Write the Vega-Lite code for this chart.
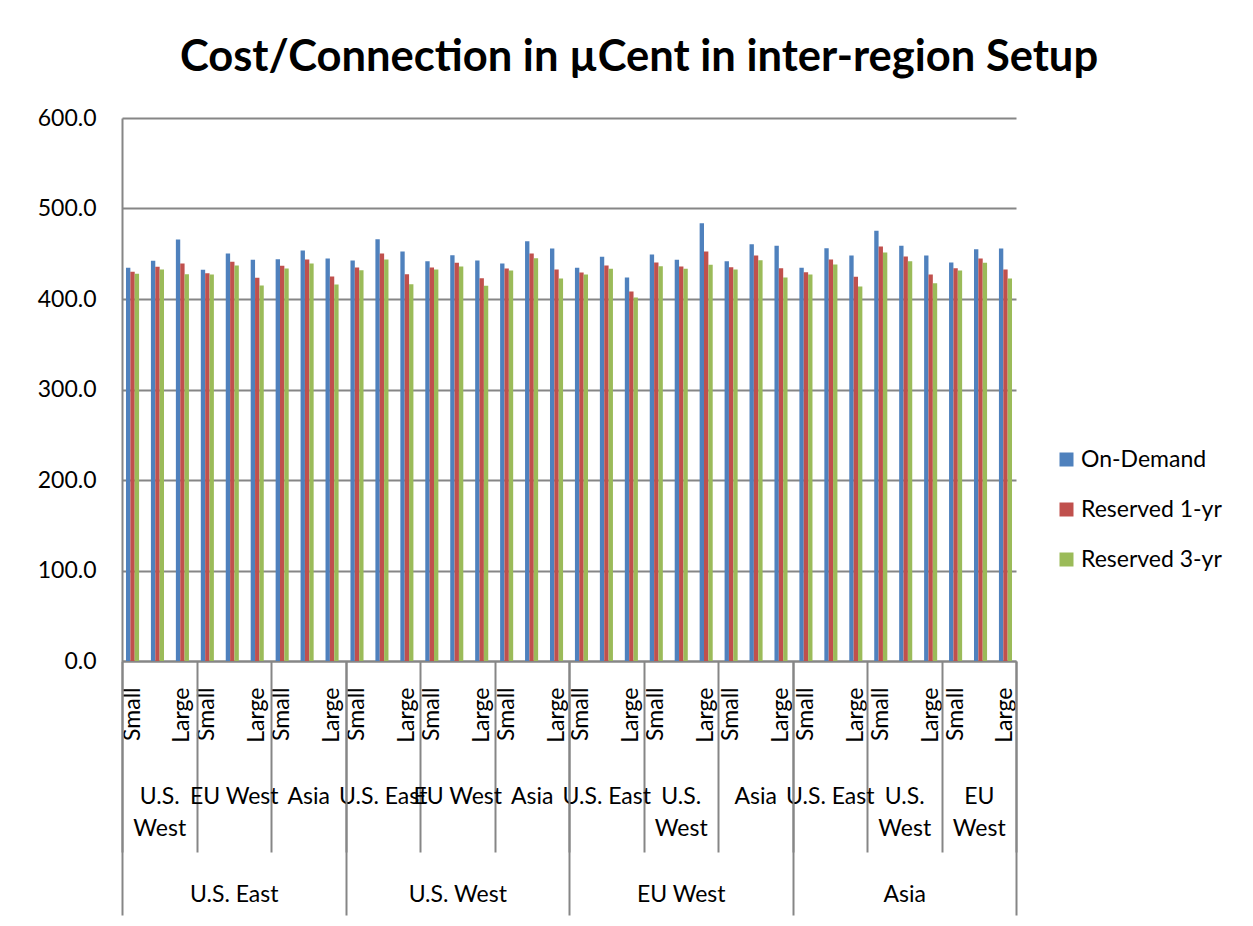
{
  "$schema": "https://vega.github.io/schema/vega-lite/v6.json",
  "width": 894,
  "height": 543,
  "autosize": {"type": "none"},
  "padding": {"left": 122, "top": 118, "right": 237, "bottom": 265},
  "background": "white",
  "title": {"text": "Cost/Connection in µCent in inter-region Setup", "font": "Lato", "fontSize": 43.5, "fontWeight": "bold", "color": "black", "anchor": "middle", "frame": "group", "dx": 70, "offset": -7, "baseline": "alphabetic"},
  "config": {"view": {"stroke": null}, "font": "Lato"},
  "data": {"values": [
    {"src":"U.S. East","route":"U.S. East / U.S. West","cell":"U.S. East / U.S. West / Small","plan":"On-Demand","value":434.5},
    {"src":"U.S. East","route":"U.S. East / U.S. West","cell":"U.S. East / U.S. West / Small","plan":"Reserved 1-yr","value":430.0},
    {"src":"U.S. East","route":"U.S. East / U.S. West","cell":"U.S. East / U.S. West / Small","plan":"Reserved 3-yr","value":428.0},
    {"src":"U.S. East","route":"U.S. East / U.S. West","cell":"U.S. East / U.S. West / Medium","plan":"On-Demand","value":442.2},
    {"src":"U.S. East","route":"U.S. East / U.S. West","cell":"U.S. East / U.S. West / Medium","plan":"Reserved 1-yr","value":435.6},
    {"src":"U.S. East","route":"U.S. East / U.S. West","cell":"U.S. East / U.S. West / Medium","plan":"Reserved 3-yr","value":432.6},
    {"src":"U.S. East","route":"U.S. East / U.S. West","cell":"U.S. East / U.S. West / Large","plan":"On-Demand","value":465.7},
    {"src":"U.S. East","route":"U.S. East / U.S. West","cell":"U.S. East / U.S. West / Large","plan":"Reserved 1-yr","value":439.2},
    {"src":"U.S. East","route":"U.S. East / U.S. West","cell":"U.S. East / U.S. West / Large","plan":"Reserved 3-yr","value":427.4},
    {"src":"U.S. East","route":"U.S. East / EU West","cell":"U.S. East / EU West / Small","plan":"On-Demand","value":432.2},
    {"src":"U.S. East","route":"U.S. East / EU West","cell":"U.S. East / EU West / Small","plan":"Reserved 1-yr","value":428.5},
    {"src":"U.S. East","route":"U.S. East / EU West","cell":"U.S. East / EU West / Small","plan":"Reserved 3-yr","value":427.1},
    {"src":"U.S. East","route":"U.S. East / EU West","cell":"U.S. East / EU West / Medium","plan":"On-Demand","value":450.3},
    {"src":"U.S. East","route":"U.S. East / EU West","cell":"U.S. East / EU West / Medium","plan":"Reserved 1-yr","value":441.1},
    {"src":"U.S. East","route":"U.S. East / EU West","cell":"U.S. East / EU West / Medium","plan":"Reserved 3-yr","value":437.0},
    {"src":"U.S. East","route":"U.S. East / EU West","cell":"U.S. East / EU West / Large","plan":"On-Demand","value":443.3},
    {"src":"U.S. East","route":"U.S. East / EU West","cell":"U.S. East / EU West / Large","plan":"Reserved 1-yr","value":423.4},
    {"src":"U.S. East","route":"U.S. East / EU West","cell":"U.S. East / EU West / Large","plan":"Reserved 3-yr","value":414.9},
    {"src":"U.S. East","route":"U.S. East / Asia","cell":"U.S. East / Asia / Small","plan":"On-Demand","value":444.0},
    {"src":"U.S. East","route":"U.S. East / Asia","cell":"U.S. East / Asia / Small","plan":"Reserved 1-yr","value":436.7},
    {"src":"U.S. East","route":"U.S. East / Asia","cell":"U.S. East / Asia / Small","plan":"Reserved 3-yr","value":433.7},
    {"src":"U.S. East","route":"U.S. East / Asia","cell":"U.S. East / Asia / Medium","plan":"On-Demand","value":453.6},
    {"src":"U.S. East","route":"U.S. East / Asia","cell":"U.S. East / Asia / Medium","plan":"Reserved 1-yr","value":443.6},
    {"src":"U.S. East","route":"U.S. East / Asia","cell":"U.S. East / Asia / Medium","plan":"Reserved 3-yr","value":439.2},
    {"src":"U.S. East","route":"U.S. East / Asia","cell":"U.S. East / Asia / Large","plan":"On-Demand","value":444.8},
    {"src":"U.S. East","route":"U.S. East / Asia","cell":"U.S. East / Asia / Large","plan":"Reserved 1-yr","value":424.9},
    {"src":"U.S. East","route":"U.S. East / Asia","cell":"U.S. East / Asia / Large","plan":"Reserved 3-yr","value":416.0},
    {"src":"U.S. West","route":"U.S. West / U.S. East","cell":"U.S. West / U.S. East / Small","plan":"On-Demand","value":442.5},
    {"src":"U.S. West","route":"U.S. West / U.S. East","cell":"U.S. West / U.S. East / Small","plan":"Reserved 1-yr","value":434.8},
    {"src":"U.S. West","route":"U.S. West / U.S. East","cell":"U.S. West / U.S. East / Small","plan":"Reserved 3-yr","value":431.9},
    {"src":"U.S. West","route":"U.S. West / U.S. East","cell":"U.S. West / U.S. East / Medium","plan":"On-Demand","value":466.0},
    {"src":"U.S. West","route":"U.S. West / U.S. East","cell":"U.S. West / U.S. East / Medium","plan":"Reserved 1-yr","value":450.3},
    {"src":"U.S. West","route":"U.S. West / U.S. East","cell":"U.S. West / U.S. East / Medium","plan":"Reserved 3-yr","value":443.6},
    {"src":"U.S. West","route":"U.S. West / U.S. East","cell":"U.S. West / U.S. East / Large","plan":"On-Demand","value":452.5},
    {"src":"U.S. West","route":"U.S. West / U.S. East","cell":"U.S. West / U.S. East / Large","plan":"Reserved 1-yr","value":427.4},
    {"src":"U.S. West","route":"U.S. West / U.S. East","cell":"U.S. West / U.S. East / Large","plan":"Reserved 3-yr","value":416.4},
    {"src":"U.S. West","route":"U.S. West / EU West","cell":"U.S. West / EU West / Small","plan":"On-Demand","value":441.8},
    {"src":"U.S. West","route":"U.S. West / EU West","cell":"U.S. West / EU West / Small","plan":"Reserved 1-yr","value":434.8},
    {"src":"U.S. West","route":"U.S. West / EU West","cell":"U.S. West / EU West / Small","plan":"Reserved 3-yr","value":432.6},
    {"src":"U.S. West","route":"U.S. West / EU West","cell":"U.S. West / EU West / Medium","plan":"On-Demand","value":448.4},
    {"src":"U.S. West","route":"U.S. West / EU West","cell":"U.S. West / EU West / Medium","plan":"Reserved 1-yr","value":440.0},
    {"src":"U.S. West","route":"U.S. West / EU West","cell":"U.S. West / EU West / Medium","plan":"Reserved 3-yr","value":435.9},
    {"src":"U.S. West","route":"U.S. West / EU West","cell":"U.S. West / EU West / Large","plan":"On-Demand","value":442.5},
    {"src":"U.S. West","route":"U.S. West / EU West","cell":"U.S. West / EU West / Large","plan":"Reserved 1-yr","value":423.0},
    {"src":"U.S. West","route":"U.S. West / EU West","cell":"U.S. West / EU West / Large","plan":"Reserved 3-yr","value":414.6},
    {"src":"U.S. West","route":"U.S. West / Asia","cell":"U.S. West / Asia / Small","plan":"On-Demand","value":439.2},
    {"src":"U.S. West","route":"U.S. West / Asia","cell":"U.S. West / Asia / Small","plan":"Reserved 1-yr","value":433.7},
    {"src":"U.S. West","route":"U.S. West / Asia","cell":"U.S. West / Asia / Small","plan":"Reserved 3-yr","value":431.5},
    {"src":"U.S. West","route":"U.S. West / Asia","cell":"U.S. West / Asia / Medium","plan":"On-Demand","value":463.9},
    {"src":"U.S. West","route":"U.S. West / Asia","cell":"U.S. West / Asia / Medium","plan":"Reserved 1-yr","value":450.3},
    {"src":"U.S. West","route":"U.S. West / Asia","cell":"U.S. West / Asia / Medium","plan":"Reserved 3-yr","value":445.1},
    {"src":"U.S. West","route":"U.S. West / Asia","cell":"U.S. West / Asia / Large","plan":"On-Demand","value":455.8},
    {"src":"U.S. West","route":"U.S. West / Asia","cell":"U.S. West / Asia / Large","plan":"Reserved 1-yr","value":432.6},
    {"src":"U.S. West","route":"U.S. West / Asia","cell":"U.S. West / Asia / Large","plan":"Reserved 3-yr","value":422.7},
    {"src":"EU West","route":"EU West / U.S. East","cell":"EU West / U.S. East / Small","plan":"On-Demand","value":434.5},
    {"src":"EU West","route":"EU West / U.S. East","cell":"EU West / U.S. East / Small","plan":"Reserved 1-yr","value":429.3},
    {"src":"EU West","route":"EU West / U.S. East","cell":"EU West / U.S. East / Small","plan":"Reserved 3-yr","value":427.1},
    {"src":"EU West","route":"EU West / U.S. East","cell":"EU West / U.S. East / Medium","plan":"On-Demand","value":446.6},
    {"src":"EU West","route":"EU West / U.S. East","cell":"EU West / U.S. East / Medium","plan":"Reserved 1-yr","value":437.0},
    {"src":"EU West","route":"EU West / U.S. East","cell":"EU West / U.S. East / Medium","plan":"Reserved 3-yr","value":433.3},
    {"src":"EU West","route":"EU West / U.S. East","cell":"EU West / U.S. East / Large","plan":"On-Demand","value":423.8},
    {"src":"EU West","route":"EU West / U.S. East","cell":"EU West / U.S. East / Large","plan":"Reserved 1-yr","value":408.3},
    {"src":"EU West","route":"EU West / U.S. East","cell":"EU West / U.S. East / Large","plan":"Reserved 3-yr","value":401.7},
    {"src":"EU West","route":"EU West / U.S. West","cell":"EU West / U.S. West / Small","plan":"On-Demand","value":449.2},
    {"src":"EU West","route":"EU West / U.S. West","cell":"EU West / U.S. West / Small","plan":"Reserved 1-yr","value":440.3},
    {"src":"EU West","route":"EU West / U.S. West","cell":"EU West / U.S. West / Small","plan":"Reserved 3-yr","value":436.2},
    {"src":"EU West","route":"EU West / U.S. West","cell":"EU West / U.S. West / Medium","plan":"On-Demand","value":443.3},
    {"src":"EU West","route":"EU West / U.S. West","cell":"EU West / U.S. West / Medium","plan":"Reserved 1-yr","value":435.9},
    {"src":"EU West","route":"EU West / U.S. West","cell":"EU West / U.S. West / Medium","plan":"Reserved 3-yr","value":433.3},
    {"src":"EU West","route":"EU West / U.S. West","cell":"EU West / U.S. West / Large","plan":"On-Demand","value":483.8},
    {"src":"EU West","route":"EU West / U.S. West","cell":"EU West / U.S. West / Large","plan":"Reserved 1-yr","value":452.5},
    {"src":"EU West","route":"EU West / U.S. West","cell":"EU West / U.S. West / Large","plan":"Reserved 3-yr","value":437.8},
    {"src":"EU West","route":"EU West / Asia","cell":"EU West / Asia / Small","plan":"On-Demand","value":441.8},
    {"src":"EU West","route":"EU West / Asia","cell":"EU West / Asia / Small","plan":"Reserved 1-yr","value":435.1},
    {"src":"EU West","route":"EU West / Asia","cell":"EU West / Asia / Small","plan":"Reserved 3-yr","value":432.6},
    {"src":"EU West","route":"EU West / Asia","cell":"EU West / Asia / Medium","plan":"On-Demand","value":460.6},
    {"src":"EU West","route":"EU West / Asia","cell":"EU West / Asia / Medium","plan":"Reserved 1-yr","value":448.1},
    {"src":"EU West","route":"EU West / Asia","cell":"EU West / Asia / Medium","plan":"Reserved 3-yr","value":442.9},
    {"src":"EU West","route":"EU West / Asia","cell":"EU West / Asia / Large","plan":"On-Demand","value":458.8},
    {"src":"EU West","route":"EU West / Asia","cell":"EU West / Asia / Large","plan":"Reserved 1-yr","value":434.0},
    {"src":"EU West","route":"EU West / Asia","cell":"EU West / Asia / Large","plan":"Reserved 3-yr","value":423.8},
    {"src":"Asia","route":"Asia / U.S. East","cell":"Asia / U.S. East / Small","plan":"On-Demand","value":434.5},
    {"src":"Asia","route":"Asia / U.S. East","cell":"Asia / U.S. East / Small","plan":"Reserved 1-yr","value":429.6},
    {"src":"Asia","route":"Asia / U.S. East","cell":"Asia / U.S. East / Small","plan":"Reserved 3-yr","value":427.1},
    {"src":"Asia","route":"Asia / U.S. East","cell":"Asia / U.S. East / Medium","plan":"On-Demand","value":456.1},
    {"src":"Asia","route":"Asia / U.S. East","cell":"Asia / U.S. East / Medium","plan":"Reserved 1-yr","value":443.6},
    {"src":"Asia","route":"Asia / U.S. East","cell":"Asia / U.S. East / Medium","plan":"Reserved 3-yr","value":438.1},
    {"src":"Asia","route":"Asia / U.S. East","cell":"Asia / U.S. East / Large","plan":"On-Demand","value":448.1},
    {"src":"Asia","route":"Asia / U.S. East","cell":"Asia / U.S. East / Large","plan":"Reserved 1-yr","value":424.5},
    {"src":"Asia","route":"Asia / U.S. East","cell":"Asia / U.S. East / Large","plan":"Reserved 3-yr","value":413.8},
    {"src":"Asia","route":"Asia / U.S. West","cell":"Asia / U.S. West / Small","plan":"On-Demand","value":475.4},
    {"src":"Asia","route":"Asia / U.S. West","cell":"Asia / U.S. West / Small","plan":"Reserved 1-yr","value":458.0},
    {"src":"Asia","route":"Asia / U.S. West","cell":"Asia / U.S. West / Small","plan":"Reserved 3-yr","value":451.4},
    {"src":"Asia","route":"Asia / U.S. West","cell":"Asia / U.S. West / Medium","plan":"On-Demand","value":458.8},
    {"src":"Asia","route":"Asia / U.S. West","cell":"Asia / U.S. West / Medium","plan":"Reserved 1-yr","value":447.0},
    {"src":"Asia","route":"Asia / U.S. West","cell":"Asia / U.S. West / Medium","plan":"Reserved 3-yr","value":441.8},
    {"src":"Asia","route":"Asia / U.S. West","cell":"Asia / U.S. West / Large","plan":"On-Demand","value":448.1},
    {"src":"Asia","route":"Asia / U.S. West","cell":"Asia / U.S. West / Large","plan":"Reserved 1-yr","value":427.1},
    {"src":"Asia","route":"Asia / U.S. West","cell":"Asia / U.S. West / Large","plan":"Reserved 3-yr","value":417.5},
    {"src":"Asia","route":"Asia / EU West","cell":"Asia / EU West / Small","plan":"On-Demand","value":440.3},
    {"src":"Asia","route":"Asia / EU West","cell":"Asia / EU West / Small","plan":"Reserved 1-yr","value":434.0},
    {"src":"Asia","route":"Asia / EU West","cell":"Asia / EU West / Small","plan":"Reserved 3-yr","value":431.5},
    {"src":"Asia","route":"Asia / EU West","cell":"Asia / EU West / Medium","plan":"On-Demand","value":455.0},
    {"src":"Asia","route":"Asia / EU West","cell":"Asia / EU West / Medium","plan":"Reserved 1-yr","value":444.8},
    {"src":"Asia","route":"Asia / EU West","cell":"Asia / EU West / Medium","plan":"Reserved 3-yr","value":440.0},
    {"src":"Asia","route":"Asia / EU West","cell":"Asia / EU West / Large","plan":"On-Demand","value":455.8},
    {"src":"Asia","route":"Asia / EU West","cell":"Asia / EU West / Large","plan":"Reserved 1-yr","value":432.6},
    {"src":"Asia","route":"Asia / EU West","cell":"Asia / EU West / Large","plan":"Reserved 3-yr","value":422.7}
  ]},
  "layer": [
    {
      "mark": {"type": "bar"},
      "encoding": {
        "x": {
          "field": "cell", "type": "nominal", "sort": null,
          "scale": {"paddingInner": 0.476, "paddingOuter": 0.16},
          "axis": {"title": null, "orient": "bottom", "labelAngle": -90, "labelAlign": "right", "labelBaseline": "middle",
                   "labelExpr": "split(datum.value, ' / ')[2] == 'Medium' ? '' : split(datum.value, ' / ')[2]",
                   "ticks": false, "tickSize": 0, "labelPadding": 26, "labelFont": "Lato", "labelFontSize": 23, "labelColor": "black",
                   "domain": true, "domainColor": "#868686", "domainWidth": 2, "grid": false,
                   "labelOverlap": false, "labelBound": false, "labelFlush": false}
        },
        "xOffset": {"field": "plan", "type": "nominal", "sort": ["On-Demand", "Reserved 1-yr", "Reserved 3-yr"], "scale": {"paddingInner": 0, "paddingOuter": 0}},
        "y": {
          "field": "value", "type": "quantitative",
          "scale": {"domain": [0, 600]},
          "axis": {"title": null, "values": [0, 100, 200, 300, 400, 500, 600], "format": ".1f",
                   "grid": true, "gridColor": "#868686", "gridWidth": 2,
                   "domain": true, "domainColor": "#868686", "domainWidth": 2,
                   "ticks": false, "tickSize": 0, "labelPadding": 26, "labelFont": "Lato", "labelFontSize": 23, "labelColor": "black"}
        },
        "color": {
          "field": "plan", "type": "nominal",
          "scale": {"domain": ["On-Demand", "Reserved 1-yr", "Reserved 3-yr"], "range": ["#4F81BD", "#C0504D", "#9BBB59"]},
          "legend": {"title": null, "orient": "none", "legendX": 933, "legendY": 330, "symbolType": "square", "symbolSize": 196,
                     "symbolStrokeWidth": 0, "labelFont": "Lato", "labelFontSize": 23, "labelColor": "black", "rowPadding": 26, "labelOffset": 3, "padding": 0}
        }
      }
    },
    {
      "mark": {"type": "point", "opacity": 0},
      "encoding": {
        "x": {
          "field": "route", "type": "nominal", "sort": null,
          "scale": {"type": "band", "paddingInner": 0, "paddingOuter": 0},
          "axis": {"title": null, "orient": "bottom", "domain": false, "grid": false, "tickBand": "extent",
                   "ticks": true, "tickSize": 191, "tickColor": "#868686", "tickWidth": 2,
                   "labelPadding": -67, "labelAngle": 0, "labelAlign": "center", "labelBaseline": "top", "labelLineHeight": 32,
                   "labelExpr": "indexof(['U.S. East / U.S. West','EU West / U.S. West','Asia / U.S. West','Asia / EU West'], datum.value) >= 0 ? split(split(datum.value, ' / ')[1], ' ') : split(datum.value, ' / ')[1]",
                   "labelFont": "Lato", "labelFontSize": 23, "labelColor": "black",
                   "labelOverlap": false, "labelBound": false, "labelFlush": false}
        }
      }
    },
    {
      "mark": {"type": "point", "opacity": 0},
      "encoding": {
        "x": {
          "field": "src", "type": "nominal", "sort": null,
          "scale": {"type": "band", "paddingInner": 0, "paddingOuter": 0},
          "axis": {"title": null, "orient": "bottom", "domain": false, "grid": false, "tickBand": "extent",
                   "ticks": true, "tickSize": 254, "tickColor": "#868686", "tickWidth": 2,
                   "labelPadding": -32, "labelAngle": 0, "labelAlign": "center", "labelBaseline": "top",
                   "labelFont": "Lato", "labelFontSize": 23, "labelColor": "black",
                   "labelOverlap": false, "labelBound": false, "labelFlush": false}
        }
      }
    }
  ],
  "resolve": {"scale": {"x": "independent"}, "axis": {"x": "independent"}}
}
